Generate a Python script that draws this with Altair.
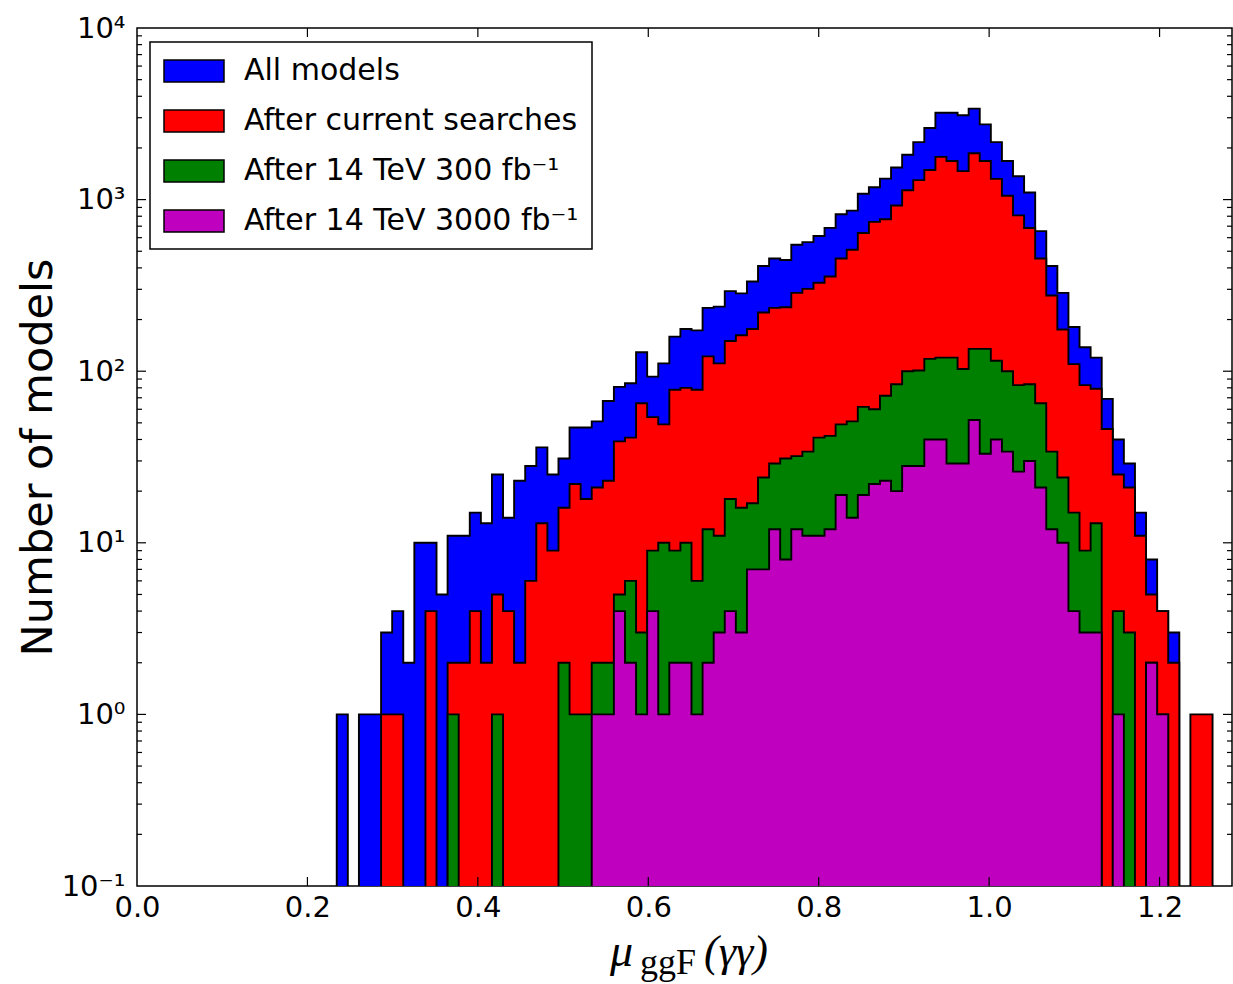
import altair as alt
import pandas as pd

# ---------------- data ----------------
bin_lo = 0.2344          # left edge of first bin
bin_width = 0.01301      # histogram bin width
floor_value = 0.01       # stand-in for empty bins (below the log axis)

all_models = [1, 0, 1, 1, 3, 4, 2, 10, 10, 5,
              11, 11, 15, 13, 25, 14, 23, 28, 36, 25,
              31, 47, 47, 51, 67, 81, 85, 129, 93, 111,
              159, 176, 173, 234, 238, 293, 284, 333, 410, 454,
              445, 546, 565, 613, 684, 822, 863, 1081, 1181, 1325,
              1539, 1825, 2163, 2615, 3208, 3206, 3100, 3388, 2743, 2163,
              1680, 1367, 1099, 655, 410, 286, 181, 138, 120, 69,
              40, 29, 15, 8, 4, 3, 0, 0, 0]

after_current = [0, 0, 0, 0, 1, 1, 0, 0, 4, 0,
                 2, 2, 4, 2, 5, 4, 2, 6, 13, 9,
                 16, 22, 18, 21, 23, 39, 41, 65, 54, 49,
                 78, 80, 78, 122, 111, 150, 162, 176, 220, 234,
                 236, 286, 302, 328, 356, 454, 510, 639, 742, 768,
                 923, 1133, 1298, 1487, 1775, 1680, 1466, 1862, 1680, 1321,
                 1054, 809, 683, 454, 276, 175, 110, 83, 79, 46,
                 25, 21, 11, 5, 4, 2, 0, 1, 1]

after_300 = [0, 0, 0, 0, 0, 0, 0, 0, 0, 0,
             1, 0, 0, 0, 1, 0, 0, 0, 0, 0,
             2, 1, 1, 2, 2, 5, 6, 3, 9, 10,
             9, 10, 6, 12, 11, 18, 16, 17, 24, 29,
             31, 32, 34, 41, 42, 49, 51, 62, 60, 72,
             84, 100, 101, 118, 120, 120, 103, 135, 135, 115,
             100, 83, 84, 65, 34, 24, 15, 9, 13, 0,
             4, 3, 0, 2, 1, 0, 0, 0, 0]

after_3000 = [0, 0, 0, 0, 0, 0, 0, 0, 0, 0,
              0, 0, 0, 0, 0, 0, 0, 0, 0, 0,
              0, 0, 0, 1, 1, 4, 2, 1, 4, 1,
              2, 2, 1, 2, 3, 4, 3, 7, 7, 12,
              8, 12, 11, 11, 12, 19, 14, 19, 22, 23,
              20, 28, 28, 40, 40, 29, 29, 52, 33, 40,
              34, 26, 30, 21, 12, 10, 4, 3, 3, 0,
              1, 0, 0, 2, 1, 0, 0, 0, 0]

series_names = ["All models", "After current searches",
                "After 14 TeV 300 fb\u207b\u00b9", "After 14 TeV 3000 fb\u207b\u00b9"]
series_colors = ["#0000ff", "#ff0000", "#008000", "#bf00bf"]
series_counts = [all_models, after_current, after_300, after_3000]

x_ticks = [0.0, 0.2, 0.4, 0.6, 0.8, 1.0, 1.2]
y_ticks = [0.1, 1, 10, 100, 1000, 10000]
y_minor = [m * 10.0 ** k for k in range(-1, 4) for m in range(2, 10)]
y_title = "Number of models"
x_title_mu = "\u03bc"
x_title_sub = "ggF"
x_title_rest = "(\u03b3\u03b3)"

W, H = 1095, 858


def step_frame(name, counts):
    n = len(counts)
    xs = [bin_lo + k * bin_width for k in range(n + 1)]
    ys = [c if c > 0 else floor_value for c in counts] + [floor_value]
    return pd.DataFrame({"series": name, "x": xs, "y": ys, "floor": floor_value})


X_enc = alt.X("x:Q",
              scale=alt.Scale(domain=[0, 1.285], nice=False, zero=False),
              axis=alt.Axis(values=x_ticks, format=".1f", title=None,
                            labelFlush=False, labelPadding=7))
Y_enc = alt.Y("y:Q", stack=None,
              scale=alt.Scale(type="log", domain=[0.1, 10000], nice=False),
              axis=alt.Axis(values=y_ticks, title=y_title,
                            labelExpr="datum.value < 0.5 ? '10\u207b\u00b9' : datum.value < 5 ? '10\u2070' : "
                                      "datum.value < 50 ? '10\u00b9' : datum.value < 500 ? '10\u00b2' : "
                                      "datum.value < 5000 ? '10\u00b3' : '10\u2074'",
                            labelPadding=12,
                            titleX=-99, titleY=429, titleAngle=270,
                            titleAlign="center", titleBaseline="middle"))

color_enc = alt.Color("series:N",
                      scale=alt.Scale(domain=series_names, range=series_colors),
                      legend=alt.Legend(title=None, orient="none", legendX=13, legendY=14,
                                        symbolType="M-1,-0.73L3,-0.73L3,0.73L-1,0.73Z",
                                        symbolSize=900, symbolStrokeColor="black",
                                        symbolStrokeWidth=1.5, symbolOpacity=1,
                                        labelFont="DejaVu Sans", labelFontSize=30,
                                        labelColor="black", labelLimit=700,
                                        labelOffset=49, padding=13, rowPadding=19,
                                        strokeColor="black", fillColor="white"))

layers = []
for name, counts in zip(series_names, series_counts):
    df = step_frame(name, counts)
    layers.append(
        alt.Chart(df).mark_area(interpolate="step-after", stroke="black", strokeWidth=1.9,
                                opacity=1, fillOpacity=1, clip=True)
        .encode(x=X_enc, y=Y_enc, y2="floor:Q", color=color_enc)
    )

# inward tick marks (matplotlib classic style)
ymaj = pd.DataFrame({"y": y_ticks[1:-1]})
ymin = pd.DataFrame({"y": y_minor})
xmaj = pd.DataFrame({"x": x_ticks[1:]})
tick_style = dict(color="black", strokeWidth=1.2)
layers += [
    alt.Chart(ymaj).mark_rule(**tick_style).encode(y=Y_enc, x=alt.value(0), x2=alt.value(9)),
    alt.Chart(ymaj).mark_rule(**tick_style).encode(y=Y_enc, x=alt.value(W - 9), x2=alt.value(W)),
    alt.Chart(ymin).mark_rule(**tick_style).encode(y=Y_enc, x=alt.value(0), x2=alt.value(5)),
    alt.Chart(ymin).mark_rule(**tick_style).encode(y=Y_enc, x=alt.value(W - 5), x2=alt.value(W)),
    alt.Chart(xmaj).mark_rule(**tick_style).encode(x=X_enc, y=alt.value(H - 9), y2=alt.value(H)),
    alt.Chart(xmaj).mark_rule(**tick_style).encode(x=X_enc, y=alt.value(0), y2=alt.value(9)),
]

# x-axis title  mu_{ggF}(gamma gamma)
layers += [
    alt.Chart(pd.DataFrame({"t": [x_title_mu]})).mark_text(
        font="Liberation Serif", fontSize=46, fontStyle="italic", align="left",
        baseline="alphabetic", color="black").encode(x=alt.value(473), y=alt.value(938), text="t:N"),
    alt.Chart(pd.DataFrame({"t": [x_title_sub]})).mark_text(
        font="Liberation Serif", fontSize=36, align="left",
        baseline="alphabetic", color="black").encode(x=alt.value(503), y=alt.value(946), text="t:N"),
    alt.Chart(pd.DataFrame({"t": [x_title_rest]})).mark_text(
        font="Liberation Serif", fontSize=44, fontStyle="italic", align="left",
        baseline="alphabetic", color="black").encode(x=alt.value(567), y=alt.value(938), text="t:N"),
]

chart = alt.layer(*layers).properties(
    width=W, height=H,
    autosize=alt.AutoSizeParams(type="none"),
    padding={"left": 137, "top": 28, "right": 1, "bottom": 98},
    background="white",
).configure_view(
    stroke="black", strokeWidth=1.5
).configure_axis(
    labelFont="DejaVu Sans", labelFontSize=29, labelColor="black",
    titleFont="DejaVu Sans", titleFontSize=43, titleColor="black", titleFontWeight="normal",
    grid=False, ticks=False, domain=False, labelOverlap=False
).configure_legend(
    strokeWidth=1.5
)

chart.save("out.html", embed_options={"renderer": "svg", "actions": False})
